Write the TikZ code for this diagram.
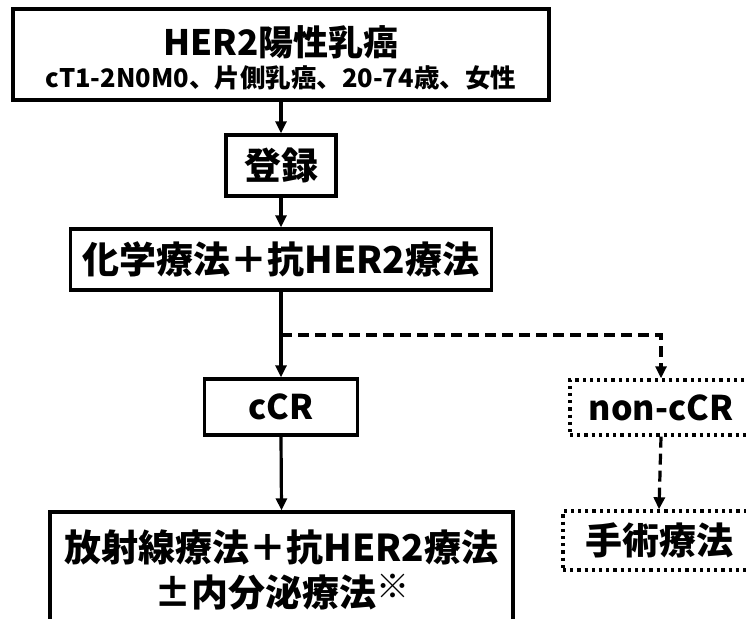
\documentclass[tikz,border=0pt]{standalone}
\usepackage{fontspec}
\setmainfont{Noto Sans CJK JP}
\usetikzlibrary{arrows.meta}
\begin{document}
\begin{tikzpicture}[x=1pt,y=-1pt,
  box/.style={draw, line width=3.4pt, inner sep=0pt},
  dotbox/.style={draw, line width=3.4pt, dash pattern=on 3.2pt off 4pt, inner sep=0pt},
  big/.style={font=\bfseries\fontsize{37}{40}\selectfont},
  mid/.style={font=\bfseries\fontsize{34}{36}\selectfont},
  arr/.style={line width=3.2pt, -{Triangle[length=12pt,width=11pt]}},
  darr/.style={arr, dash pattern=on 11pt off 6pt},
]
\useasboundingbox (0,0) rectangle (746,618);
\clip (0,0) rectangle (746,618);

\node[box, minimum width=536pt, minimum height=91pt] (top) at (281,54.5) {};
\node[font=\bfseries\fontsize{35}{36}\selectfont] (t1) at (281,42) {HER2陽性乳癌};
\node[font=\bfseries\fontsize{25.5}{26}\selectfont] (t2) at (281,78) {cT1-2N0M0、片側乳癌、20-74歳、女性};

\node[box, big, minimum width=110pt, minimum height=61pt] (reg) at (281,165.5) {登録};
\node[box, big, minimum width=421pt, minimum height=61pt] (chem) at (281,259.5) {化学療法＋抗HER2療法};
\node[box, mid, minimum width=153pt, minimum height=56pt] (ccr) at (281,407) {cCR};
\node[dotbox, mid, minimum width=182pt, minimum height=55pt] (ncr) at (661,407.5) {non-cCR};
\node[dotbox, big, minimum width=192pt, minimum height=59pt] (sur) at (659,540.5) {手術療法};
\node[box, minimum width=463pt, minimum height=138pt] (bot) at (281.5,581) {};
\node[big] (b1) at (281.5,547) {放射線療法＋抗HER2療法};
\node[big] (b2) at (281.5,592) {±内分泌療法\raisebox{0.22em}{\fontsize{33}{33}\selectfont ※}};

\coordinate (br) at (281,335);
\draw[arr] (top.south) -- (reg.north);
\draw[arr] (reg.south) -- (chem.north);
\draw[arr] (chem.south) -- (ccr.north);
\draw[darr] (br) -| (ncr.north);
\draw[arr] (ccr.south) -- (bot.north);
\draw[darr] (ncr.south) -- (sur.north);
\end{tikzpicture}
\end{document}
